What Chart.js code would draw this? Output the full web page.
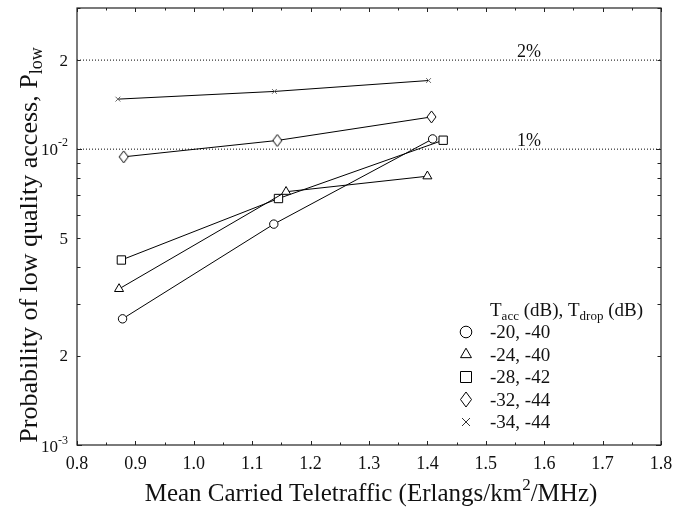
<!DOCTYPE html>
<html><head><meta charset="utf-8">
<script src="https://cdn.jsdelivr.net/npm/chart.js@4.4.0/dist/chart.umd.min.js"></script>
<style>html,body{margin:0;padding:0;background:#fff}#wrap{width:673px;height:508px}</style>
</head><body><div id="wrap"><canvas id="c" width="673" height="508"></canvas></div>
<script>
// ---- data ----
const seriesNames = ['-20, -40', '-24, -40', '-28, -42', '-32, -44', '-34, -44'];
const xCircle   = [0.878, 1.137, 1.409];
const yCircle   = [0.00267, 0.00558, 0.01083];
const xTriangle = [0.872, 1.158, 1.400];
const yTriangle = [0.00337, 0.00718, 0.00810];
const xSquare   = [0.876, 1.145, 1.427];
const ySquare   = [0.00422, 0.00681, 0.01072];
const xDiamond  = [0.880, 1.143, 1.407];
const yDiamond  = [0.00942, 0.01070, 0.01285];
const xCross    = [0.870, 1.138, 1.402];
const yCross    = [0.01476, 0.01567, 0.01706];
const refLevels = [0.02, 0.01];
const refLabels = ['2%', '1%'];
const xTickValues = [0.8, 0.9, 1.0, 1.1, 1.2, 1.3, 1.4, 1.5, 1.6, 1.7, 1.8];
const xTickLabels = ['0.8', '0.9', '1.0', '1.1', '1.2', '1.3', '1.4', '1.5', '1.6', '1.7', '1.8'];
const yTickValues = [0.001, 0.002, 0.005, 0.01, 0.02];
const yTickMain   = ['10', '2', '5', '10', '2'];
const yTickSup    = ['-3', '', '', '-2', ''];
const yMinorValues = [0.003, 0.004, 0.006, 0.007, 0.008, 0.009, 0.03];

const FONT = "'Liberation Serif', 'Times New Roman', serif";

function pts(xs, ys) { return xs.map((x, i) => ({ x: x, y: ys[i] })); }

function diamondCanvas(w, h) {
  const c = document.createElement('canvas');
  c.width = w + 2; c.height = h + 2;
  const g = c.getContext('2d');
  g.fillStyle = '#fff'; g.strokeStyle = '#000'; g.lineWidth = 1;
  g.beginPath();
  g.moveTo((w + 2) / 2, 1); g.lineTo(w + 1, (h + 2) / 2);
  g.lineTo((w + 2) / 2, h + 1); g.lineTo(1, (h + 2) / 2);
  g.closePath(); g.fill(); g.stroke();
  return c;
}
const diamondPlot = diamondCanvas(9, 12);

function series(label, xs, ys, style, radius, pcolor) {
  return {
    label: label, data: pts(xs, ys), showLine: true,
    borderColor: '#000', borderWidth: 1, fill: false,
    pointStyle: style, pointRadius: radius, pointHoverRadius: radius,
    pointBackgroundColor: '#fff', pointBorderColor: pcolor || '#000', pointBorderWidth: 1
  };
}

const datasets = [
  series(seriesNames[0], xCircle, yCircle, 'circle', 4.2),
  series(seriesNames[1], xTriangle, yTriangle, 'triangle', 5.2),
  series(seriesNames[2], xSquare, ySquare, 'rect', 5.9),
  series(seriesNames[3], xDiamond, yDiamond, diamondPlot, 6),
  series(seriesNames[4], xCross, yCross, 'crossRot', 3.4, '#666')
];
refLevels.forEach((lv, i) => {
  datasets.push({
    label: refLabels[i], data: [{ x: 0.8, y: lv }, { x: 1.8, y: lv }], showLine: true,
    borderColor: '#000', borderWidth: 1, borderDash: [1, 2], pointRadius: 0, fill: false
  });
});

function drawMarker(ctx, kind, x, y) {
  ctx.save();
  ctx.strokeStyle = '#000'; ctx.fillStyle = '#fff'; ctx.lineWidth = 1;
  ctx.beginPath();
  if (kind === 0) { ctx.arc(x, y, 5.8, 0, Math.PI * 2); }
  else if (kind === 1) { const r = 6.3; ctx.moveTo(x, y - r); ctx.lineTo(x + r * 0.866, y + r * 0.5); ctx.lineTo(x - r * 0.866, y + r * 0.5); ctx.closePath(); }
  else if (kind === 2) { ctx.rect(x - 5.5, y - 5.5, 11, 11); }
  else if (kind === 3) { ctx.moveTo(x, y - 7.5); ctx.lineTo(x + 5.5, y); ctx.lineTo(x, y + 7.5); ctx.lineTo(x - 5.5, y); ctx.closePath(); }
  else { ctx.strokeStyle = '#333'; ctx.moveTo(x - 4, y - 4); ctx.lineTo(x + 4, y + 4); ctx.moveTo(x + 4, y - 4); ctx.lineTo(x - 4, y + 4); }
  if (kind !== 4) ctx.fill();
  ctx.stroke();
  ctx.restore();
}

const decor = {
  id: 'decor',
  afterDraw(chart) {
    const ctx = chart.ctx, a = chart.chartArea;
    const xs = chart.scales.x, ys = chart.scales.y;
    ctx.save();
    // frame
    ctx.strokeStyle = '#222'; ctx.lineWidth = 1.2;
    ctx.strokeRect(a.left, a.top, a.right - a.left, a.bottom - a.top);
    // x ticks
    ctx.lineWidth = 1;
    ctx.beginPath();
    for (let v = 0.8; v <= 1.8001; v += 0.05) {
      const px = Math.round(xs.getPixelForValue(v)) + 0.5;
      const major = Math.abs(Math.round(v * 10) - v * 10) < 1e-6;
      const len = major ? 4 : 2.5;
      ctx.moveTo(px, a.bottom); ctx.lineTo(px, a.bottom - len);
      ctx.moveTo(px, a.top); ctx.lineTo(px, a.top + len);
    }
    // y ticks
    const allY = yTickValues.concat(yMinorValues);
    allY.forEach(v => {
      const py = Math.round(ys.getPixelForValue(v)) + 0.5;
      const major = (v === 0.001 || v === 0.01);
      const len = major ? 5 : 3.5;
      ctx.moveTo(a.left, py); ctx.lineTo(a.left + len, py);
      ctx.moveTo(a.right, py); ctx.lineTo(a.right - len, py);
    });
    ctx.stroke();

    ctx.fillStyle = '#111';
    // x tick labels
    ctx.font = '18px ' + FONT; ctx.textAlign = 'center'; ctx.textBaseline = 'alphabetic';
    xTickValues.forEach((v, i) => ctx.fillText(xTickLabels[i], xs.getPixelForValue(v), 469));
    // y tick labels
    ctx.textBaseline = 'middle'; ctx.textAlign = 'left';
    yTickValues.forEach((v, i) => {
      const py = ys.getPixelForValue(v) + (i === 0 ? 3 : 1);
      ctx.font = '17px ' + FONT;
      const w1 = ctx.measureText(yTickMain[i]).width;
      ctx.font = '12px ' + FONT;
      const w2 = yTickSup[i] ? ctx.measureText(yTickSup[i]).width : 0;
      const x0 = 68 - w1 - w2;
      ctx.font = '17px ' + FONT;
      ctx.fillText(yTickMain[i], x0, py);
      if (yTickSup[i]) { ctx.font = '12px ' + FONT; ctx.fillText(yTickSup[i], x0 + w1, py - 7); }
    });
    // reference labels
    ctx.font = '18px ' + FONT; ctx.textAlign = 'center'; ctx.textBaseline = 'alphabetic';
    refLevels.forEach((lv, i) => ctx.fillText(refLabels[i], xs.getPixelForValue(1.574), ys.getPixelForValue(lv) - 3));

    // x title
    ctx.textAlign = 'left';
    const xt1 = 'Mean Carried Teletraffic (Erlangs/km', xt2 = '2', xt3 = '/MHz)';
    ctx.font = '25px ' + FONT; const a1 = ctx.measureText(xt1).width, a3 = ctx.measureText(xt3).width;
    ctx.font = '17px ' + FONT; const a2 = ctx.measureText(xt2).width;
    let sx = 371 - (a1 + a2 + a3) / 2;
    ctx.font = '25px ' + FONT; ctx.fillText(xt1, sx, 501);
    ctx.font = '17px ' + FONT; ctx.fillText(xt2, sx + a1, 490);
    ctx.font = '25px ' + FONT; ctx.fillText(xt3, sx + a1 + a2, 501);

    // y title
    ctx.save();
    ctx.translate(37, 245); ctx.rotate(-Math.PI / 2);
    const yt1 = 'Probability of low quality access, P', yt2 = 'low';
    ctx.font = '26px ' + FONT; const b1 = ctx.measureText(yt1).width;
    ctx.font = '18px ' + FONT; const b2 = ctx.measureText(yt2).width;
    const sy = -(b1 + b2) / 2;
    ctx.font = '26px ' + FONT; ctx.fillText(yt1, sy, 0);
    ctx.font = '18px ' + FONT; ctx.fillText(yt2, sy + b1, 5);
    ctx.restore();

    // legend
    ctx.textAlign = 'left'; ctx.textBaseline = 'alphabetic';
    const parts = [['T', 0], ['acc', 1], [' (dB), T', 0], ['drop', 1], [' (dB)', 0]];
    let lx = 490;
    parts.forEach(p => {
      ctx.font = (p[1] ? '13px ' : '19px ') + FONT;
      ctx.fillText(p[0], lx, 316 + (p[1] ? 4 : 0));
      lx += ctx.measureText(p[0]).width;
    });
    seriesNames.forEach((n, i) => {
      const by = 338 + i * 22.5;
      ctx.font = '19px ' + FONT; ctx.fillStyle = '#111';
      ctx.fillText(n, 490, by);
      drawMarker(ctx, i, 466, by - 6);
    });
    ctx.restore();
  }
};

new Chart(document.getElementById('c'), {
  type: 'scatter',
  data: { datasets: datasets },
  options: {
    responsive: false, animation: false, devicePixelRatio: 1,
    layout: { padding: { top: 8, right: 12, left: 0, bottom: 0 } },
    plugins: { legend: { display: false }, tooltip: { enabled: false } },
    scales: {
      x: {
        type: 'linear', min: 0.8, max: 1.8,
        grid: { display: false }, border: { display: false },
        ticks: { display: false },
        afterFit(s) { s.height = 63; }
      },
      y: {
        type: 'logarithmic', min: 0.001, max: 0.03,
        grid: { display: false }, border: { display: false },
        ticks: { display: false },
        afterFit(s) { s.width = 77; }
      }
    }
  },
  plugins: [decor]
});
</script></body></html>
